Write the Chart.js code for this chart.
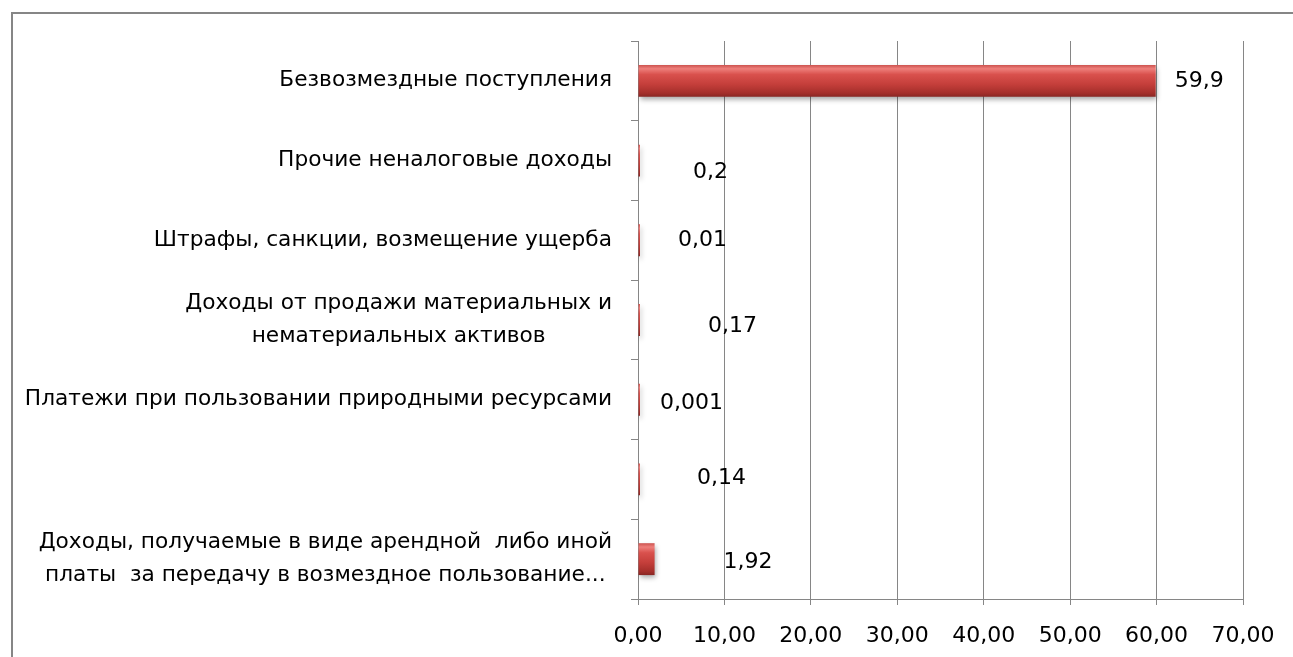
<!DOCTYPE html>
<html>
<head>
<meta charset="utf-8">
<script src="https://cdn.jsdelivr.net/npm/chart.js@4/dist/chart.umd.min.js"></script>
<style>
  html, body { margin: 0; padding: 0; background: #fff; }
  #wrap { width: 1293px; height: 657px; position: relative; }
</style>
</head>
<body>
<div id="wrap"><canvas id="chart"></canvas></div>
<script>
// categories, top to bottom
var categories = [
    'Безвозмездные поступления',
    'Прочие неналоговые доходы',
    'Штрафы, санкции, возмещение ущерба',
    ['Доходы от продажи материальных и', 'нематериальных активов'],
    'Платежи при пользовании природными ресурсами',
    '',
    ['Доходы, получаемые в виде арендной  либо иной', 'платы  за передачу в возмездное пользование...']
];
var values = [59.9, 0.2, 0.01, 0.17, 0.001, 0.14, 1.92];
var valueLabels = ['59,9', '0,2', '0,01', '0,17', '0,001', '0,14', '1,92'];
var xTickLabels = ['0,00', '10,00', '20,00', '30,00', '40,00', '50,00', '60,00', '70,00'];

// where the value labels sit relative to the bar end (they were moved by hand in the original)
var labelDx = [19, 53, 38, 68, 20, 57, 69];
var labelDy = [0, 12, 0, 6, 4, -1, 3];

var FONT = '"DejaVu Sans", sans-serif';
var GRID = '#868686';

function barFill(ctx) {
    var chart = ctx.chart;
    if (!chart.chartArea) return '#c0504d';
    var ys = chart.scales.y;
    var yc = ys.getPixelForValue(ctx.dataIndex);
    var half = (ys.height / categories.length) * 0.2;
    var g = chart.ctx.createLinearGradient(0, yc - half, 0, yc + half);
    g.addColorStop(0, '#cc524e');
    g.addColorStop(0.12, '#ee7f7b');
    g.addColorStop(0.3, '#d9514d');
    g.addColorStop(0.6, '#c53f3b');
    g.addColorStop(0.88, '#a52f2b');
    g.addColorStop(1, '#882623');
    return g;
}

var framePlugin = {
    id: 'frame',
    beforeDraw: function(chart) {
        var c = chart.ctx;
        c.save();
        c.fillStyle = '#868686';
        c.fillRect(11, 12, 2, chart.height);
        c.fillRect(11, 12, chart.width, 2);
        c.restore();
    }
};

var shadowPlugin = {
    id: 'barShadow',
    beforeDatasetsDraw: function(chart) {
        var c = chart.ctx;
        c.save();
        c.shadowColor = 'rgba(0,0,0,0.35)';
        c.shadowBlur = 5;
        c.shadowOffsetX = 1;
        c.shadowOffsetY = 3;
    },
    afterDatasetsDraw: function(chart) {
        chart.ctx.restore();
    }
};

var valueLabelPlugin = {
    id: 'valueLabels',
    afterDatasetsDraw: function(chart) {
        var c = chart.ctx;
        var meta = chart.getDatasetMeta(0);
        c.save();
        c.font = '22px ' + FONT;
        c.fillStyle = '#000';
        c.textAlign = 'left';
        c.textBaseline = 'middle';
        meta.data.forEach(function(bar, i) {
            c.fillText(valueLabels[i], bar.x + labelDx[i], bar.y + labelDy[i]);
        });
        c.restore();
    }
};

// category labels: block right aligned to the axis, lines centred inside the block
var categoryLabelPlugin = {
    id: 'categoryLabels',
    afterDraw: function(chart) {
        var c = chart.ctx;
        var ys = chart.scales.y;
        var right = ys.right - 26;
        var lineH = 33;
        c.save();
        c.font = '21.7px ' + FONT;
        c.fillStyle = '#000';
        c.textAlign = 'center';
        c.textBaseline = 'middle';
        categories.forEach(function(lab, i) {
            var lines = Array.isArray(lab) ? lab : [lab];
            var w = 0;
            lines.forEach(function(l) { w = Math.max(w, c.measureText(l).width); });
            var cx = right - w / 2;
            var yc = ys.getPixelForValue(i);
            var y0 = yc - (lines.length - 1) * lineH / 2;
            lines.forEach(function(l, k) {
                c.fillText(l, cx, y0 + k * lineH);
            });
        });
        c.restore();
    }
};

var ctx = document.getElementById('chart').getContext('2d');
var chart = new Chart(ctx, {
    type: 'bar',
    data: {
        labels: categories,
        datasets: [{
            data: values,
            backgroundColor: barFill,
            borderColor: '#8c2825',
            borderWidth: 0,
            barPercentage: 0.4,
            categoryPercentage: 1,
            minBarLength: 2
        }]
    },
    options: {
        indexAxis: 'y',
        responsive: true,
        maintainAspectRatio: false,
        animation: false,
        layout: { padding: { left: 0, top: 41, right: 50, bottom: 0 } },
        plugins: {
            legend: { display: false },
            tooltip: { enabled: false },
            title: { display: false }
        },
        scales: {
            x: {
                min: 0,
                max: 70,
                ticks: {
                    stepSize: 10,
                    font: { family: FONT, size: 22 },
                    color: '#000',
                    padding: 18,
                    maxRotation: 0,
                    callback: function(v, i) { return xTickLabels[i]; }
                },
                grid: { color: GRID, lineWidth: 1, tickLength: 6 },
                border: { color: GRID, width: 1 },
                afterFit: function(scale) { scale.height = 58; }
            },
            y: {
                ticks: { display: false },
                grid: {
                    color: GRID,
                    offset: true,
                    drawOnChartArea: false,
                    drawTicks: true,
                    tickLength: 7
                },
                border: { color: GRID, width: 1 },
                afterFit: function(scale) { scale.width = 638; }
            }
        }
    },
    plugins: [framePlugin, shadowPlugin, valueLabelPlugin, categoryLabelPlugin]
});
</script>
</body>
</html>
